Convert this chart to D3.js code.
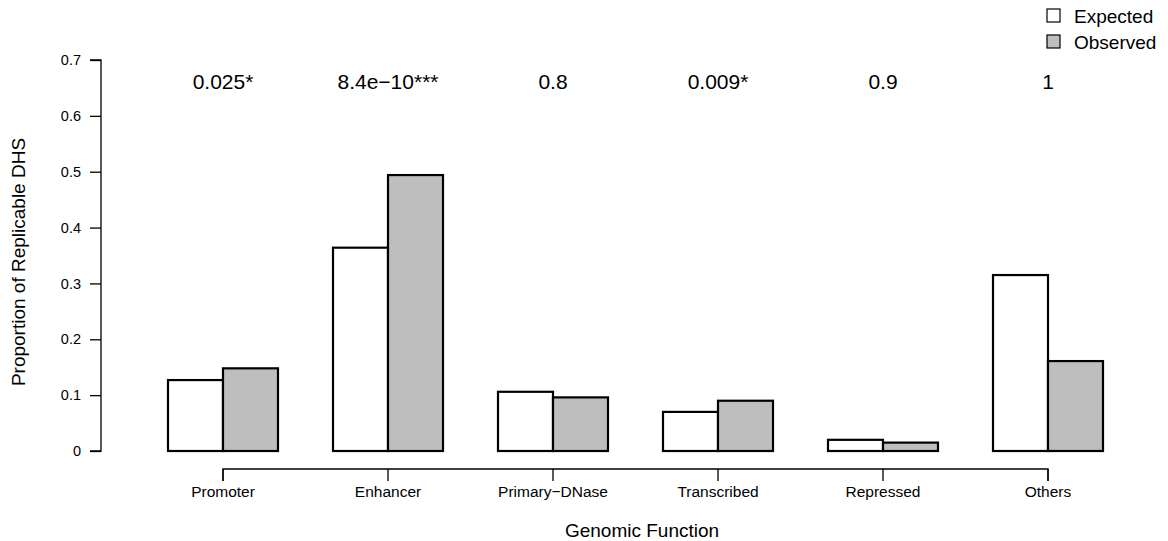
<!DOCTYPE html>
<html>
<head>
<meta charset="utf-8">
<script src="https://cdn.jsdelivr.net/npm/d3@7"></script>
<style>
  body { margin: 0; background: #fff; }
  svg { font-family: "Liberation Sans", Arial, Helvetica, sans-serif; }
</style>
</head>
<body>
<div class="vis-barchart"></div>
<script>
// data
const categories = ['Promoter', 'Enhancer', 'Primary\u2212DNase', 'Transcribed', 'Repressed', 'Others'];
const seriesNames = ['Expected', 'Observed'];
const expected = [0.127, 0.364, 0.106, 0.070, 0.020, 0.315];
const observed = [0.148, 0.494, 0.096, 0.090, 0.015, 0.161];
const pValues = ['0.025*', '8.4e\u221210***', '0.8', '0.009*', '0.9', '1'];
const yTicks = [0, 0.1, 0.2, 0.3, 0.4, 0.5, 0.6, 0.7];

const width = 1168, height = 541;
const fills = { Expected: '#ffffff', Observed: '#bebebe' };

const rows = categories.map((c, i) => ({
    cat: c,
    values: [
        { key: 'Expected', value: expected[i] },
        { key: 'Observed', value: observed[i] }
    ]
}));

const svg = d3.select('.vis-barchart')
    .append('svg')
    .attr('width', width)
    .attr('height', height);

// group scale: bar width 55, gap between groups = one bar
const x0 = d3.scaleBand()
    .domain(categories)
    .range([113, 1158])
    .paddingInner(1 / 3)
    .paddingOuter(1 / 3);

const x1 = d3.scaleBand()
    .domain(seriesNames)
    .range([0, x0.bandwidth()]);

const y = d3.scaleLinear()
    .domain([0, 0.7])
    .range([451, 60]);

// y axis
const yAxis = svg.append('g')
    .attr('transform', 'translate(101,0)')
    .call(d3.axisLeft(y).tickValues(yTicks).tickFormat(d => d === 0 ? '0' : d3.format('.1f')(d)).tickSize(11).tickPadding(9));
yAxis.select('.domain').attr('stroke', '#000').attr('stroke-width', 1.3)
    .attr('d', 'M-11,' + y(0.7) + 'H0V' + y(0) + 'H-11');
yAxis.selectAll('.tick line').attr('stroke', '#000').attr('stroke-width', 1.3);
yAxis.selectAll('text').attr('font-size', 14.5).attr('fill', '#000').attr('font-family', null);

// x axis
const xAxis = svg.append('g')
    .attr('transform', 'translate(0,469)')
    .call(d3.axisBottom(x0).tickSize(12).tickPadding(5).tickSizeOuter(0));
const c0 = x0(categories[0]) + x0.bandwidth() / 2;
const c1 = x0(categories[categories.length - 1]) + x0.bandwidth() / 2;
xAxis.select('.domain').attr('stroke', '#000').attr('stroke-width', 1.3)
    .attr('d', 'M' + c0 + ',12V0H' + c1 + 'V12');
xAxis.selectAll('.tick line').attr('stroke', '#000').attr('stroke-width', 1.3);
xAxis.selectAll('text').attr('font-size', 15.5).attr('fill', '#000').attr('font-family', null);

// bars
const group = svg.selectAll('.grp')
    .data(rows)
    .enter().append('g')
    .attr('class', 'grp')
    .attr('transform', d => 'translate(' + x0(d.cat) + ',0)');

group.selectAll('rect')
    .data(d => d.values)
    .enter().append('rect')
    .attr('x', d => x1(d.key))
    .attr('y', d => y(d.value))
    .attr('width', x1.bandwidth())
    .attr('height', d => y(0) - y(d.value))
    .attr('fill', d => fills[d.key])
    .attr('stroke', '#000')
    .attr('stroke-width', 2.2);

// p-values above groups
svg.selectAll('.pval')
    .data(categories)
    .enter().append('text')
    .attr('class', 'pval')
    .attr('x', d => x0(d) + x0.bandwidth() / 2)
    .attr('y', 89)
    .attr('text-anchor', 'middle')
    .attr('font-size', 21)
    .text((d, i) => pValues[i]);

// axis titles
svg.append('text')
    .attr('x', 642)
    .attr('y', 537)
    .attr('text-anchor', 'middle')
    .attr('font-size', 19)
    .text('Genomic Function');

svg.append('text')
    .attr('transform', 'translate(25,262)rotate(-90)')
    .attr('text-anchor', 'middle')
    .attr('font-size', 19)
    .text('Proportion of Replicable DHS');

// legend
const legend = svg.selectAll('.legend')
    .data(seriesNames)
    .enter().append('g')
    .attr('class', 'legend')
    .attr('transform', (d, i) => 'translate(1047,' + (9 + i * 26) + ')');

legend.append('rect')
    .attr('width', 13)
    .attr('height', 13)
    .attr('fill', d => fills[d])
    .attr('stroke', '#000')
    .attr('stroke-width', 1.2);

legend.append('text')
    .attr('x', 27)
    .attr('y', 13.5)
    .attr('font-size', 19)
    .text(d => d);
</script>
</body>
</html>
